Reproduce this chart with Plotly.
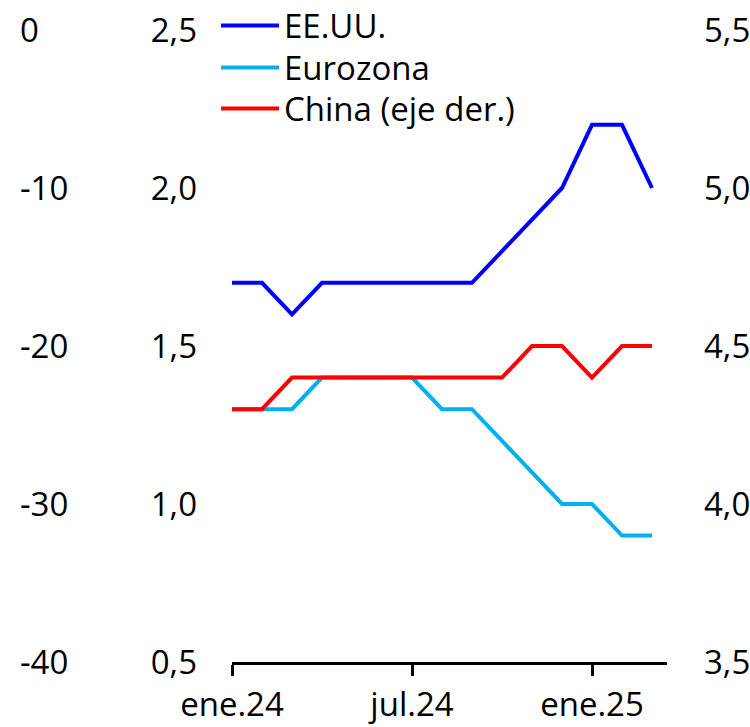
import plotly.graph_objects as go

months = ["ene.24", "feb.24", "mar.24", "abr.24", "may.24", "jun.24", "jul.24",
          "ago.24", "sep.24", "oct.24", "nov.24", "dic.24", "ene.25", "feb.25", "mar.25"]
eeuu = [1.7, 1.7, 1.6, 1.7, 1.7, 1.7, 1.7, 1.7, 1.7, 1.8, 1.9, 2.0, 2.2, 2.2, 2.0]
eurozona = [1.3, 1.3, 1.3, 1.4, 1.4, 1.4, 1.4, 1.3, 1.3, 1.2, 1.1, 1.0, 1.0, 0.9, 0.9]
china = [4.3, 4.3, 4.4, 4.4, 4.4, 4.4, 4.4, 4.4, 4.4, 4.4, 4.5, 4.5, 4.4, 4.5, 4.5]

# far-left axis (no series drawn on it)
left_ticks = [0, -10, -20, -30, -40]

tick_idx = [0, 6, 12]
x = list(range(len(months)))

W, H = 750, 727
left_px, right_px, top_px, bottom_px = 232, 667, 30, 662
plot_w = right_px            # margin l = 0
plot_h = bottom_px           # margin t = 0
x0 = left_px / plot_w
y1 = (bottom_px - top_px) / plot_h

fig = go.Figure()
fig.add_trace(go.Scatter(x=x, y=eeuu, name="EE.UU.", mode="lines",
                         line=dict(color="#0000FF", width=4), legend="legend"))
fig.add_trace(go.Scatter(x=x, y=eurozona, name="Eurozona", mode="lines",
                         line=dict(color="#00B0F0", width=4), legend="legend2"))
fig.add_trace(go.Scatter(x=x, y=china, name="China (eje der.)", mode="lines",
                         line=dict(color="#FF0000", width=4), yaxis="y2", legend="legend3"))
fig.add_trace(go.Scatter(x=[None], y=[None], yaxis="y3", showlegend=False, hoverinfo="skip"))

font = dict(family="Open Sans, sans-serif", size=33, color="#000000")


def legend_at(top):
    # one legend per row so the row spacing can follow the reference
    return dict(x=216 / plot_w, xanchor="left", y=1 - top / plot_h, yanchor="top",
                bgcolor="rgba(0,0,0,0)", itemwidth=58, font=font)


fig.update_layout(
    width=W, height=H,
    margin=dict(l=0, r=W - right_px, t=0, b=H - bottom_px, autoexpand=False),
    paper_bgcolor="white", plot_bgcolor="white",
    separators=",.",
    font=font,
    showlegend=True,
    legend=legend_at(-2.5),
    legend2=legend_at(39.5),
    legend3=legend_at(80.5),
    xaxis=dict(domain=[x0, 1], range=[0, 14.5], tickvals=tick_idx,
               ticktext=[months[i] for i in tick_idx],
               showline=True, linecolor="black", linewidth=2.5,
               ticks="outside", ticklen=11, tickwidth=2.5, tickcolor="black",
               ticklabelstandoff=1,
               showgrid=False, zeroline=False, automargin=False),
    yaxis=dict(domain=[0, y1], range=[0.5, 2.5], dtick=0.5, tickformat=".1f",
               anchor="free", position=x0, side="left",
               showgrid=False, zeroline=False, showline=False, ticks="",
               ticklabelstandoff=35, automargin=False),
    yaxis2=dict(range=[3.5, 5.5], dtick=0.5, tickformat=".1f",
                overlaying="y", side="right", anchor="x",
                showgrid=False, zeroline=False, showline=False, ticks="",
                ticklabelstandoff=36, automargin=False),
    yaxis3=dict(range=[-40, 0], tickvals=left_ticks,
                ticktext=[str(v) for v in left_ticks],
                overlaying="y", side="right", anchor="free", position=19 / plot_w,
                showgrid=False, zeroline=False, showline=False, ticks="",
                ticklabelstandoff=0, automargin=False),
)

# the page adds an 8px body margin; drop it so the figure fills the window
fig.write_html("out.html", config={"displayModeBar": False},
               post_script="document.body.style.margin='0';")
